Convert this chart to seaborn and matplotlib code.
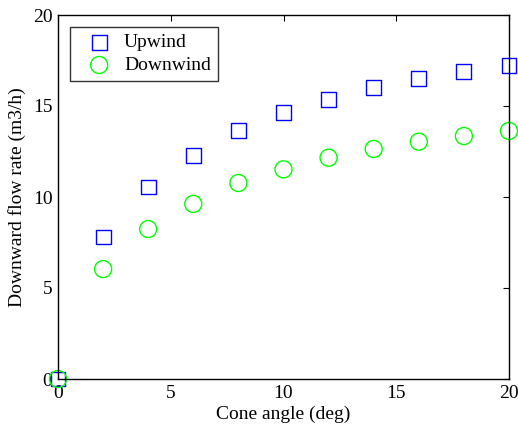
import pandas as pd
import matplotlib
matplotlib.use("Agg")
import matplotlib.pyplot as plt
import seaborn as sns

# Values
cone_angle = [0, 2, 4, 6, 8, 10, 12, 14, 16, 18, 20]
upwind = [0, 7.8, 10.55, 12.3, 13.63, 14.63, 15.38, 16.03, 16.5, 16.92, 17.21]
downwind = [0, 6.04, 8.24, 9.62, 10.77, 11.52, 12.16, 12.64, 13.04, 13.35, 13.63]

sns.set_theme(style="white", rc={"text.color": "black", "axes.labelcolor": "black",
                                 "xtick.color": "black", "ytick.color": "black"})
plt.rcParams['font.family'] = ['Liberation Serif', 'DejaVu Serif']

df = pd.DataFrame({"angle": cone_angle, "Upwind": upwind, "Downwind": downwind})

fig = plt.figure(figsize=(5.18, 4.25), dpi=100)
ax = fig.add_axes([58 / 518, 1 - 379 / 425, 451 / 518, 364 / 425])

sns.scatterplot(data=df, x="angle", y="Upwind", ax=ax, marker="s", s=115,
                facecolor="none", edgecolor="#0000ff", linewidth=1.0, label="Upwind")
sns.scatterplot(data=df, x="angle", y="Downwind", ax=ax, marker="o", s=150,
                facecolor="none", edgecolor="#00ff00", linewidth=1.0, label="Downwind")

ax.set_xlim(0, 20)
ax.set_ylim(0, 20)
ax.set_xticks([0, 5, 10, 15, 20])
ax.set_yticks([0, 5, 10, 15, 20])
ax.tick_params(direction="in", top=True, right=True, length=4, width=0.8,
               labelsize=14, colors="black", pad=4)
for sp in ax.spines.values():
    sp.set_color("black")
    sp.set_linewidth(1.0)
ax.set_xlabel("Cone angle (deg)", fontsize=14, labelpad=3)
ax.set_ylabel("Downward flow rate (m3/h)", fontsize=14, labelpad=5)
for c in ax.collections:
    c.set_clip_on(False)

leg = ax.legend(loc="upper left", bbox_to_anchor=(0.0266, 0.967), borderaxespad=0,
                fontsize=14, frameon=True, fancybox=False, edgecolor="black",
                borderpad=0.35, handletextpad=0.13, labelspacing=0.26,
                handlelength=2.3)
leg.get_frame().set_linewidth(1.0)

fig.savefig("out.png", dpi=100)
